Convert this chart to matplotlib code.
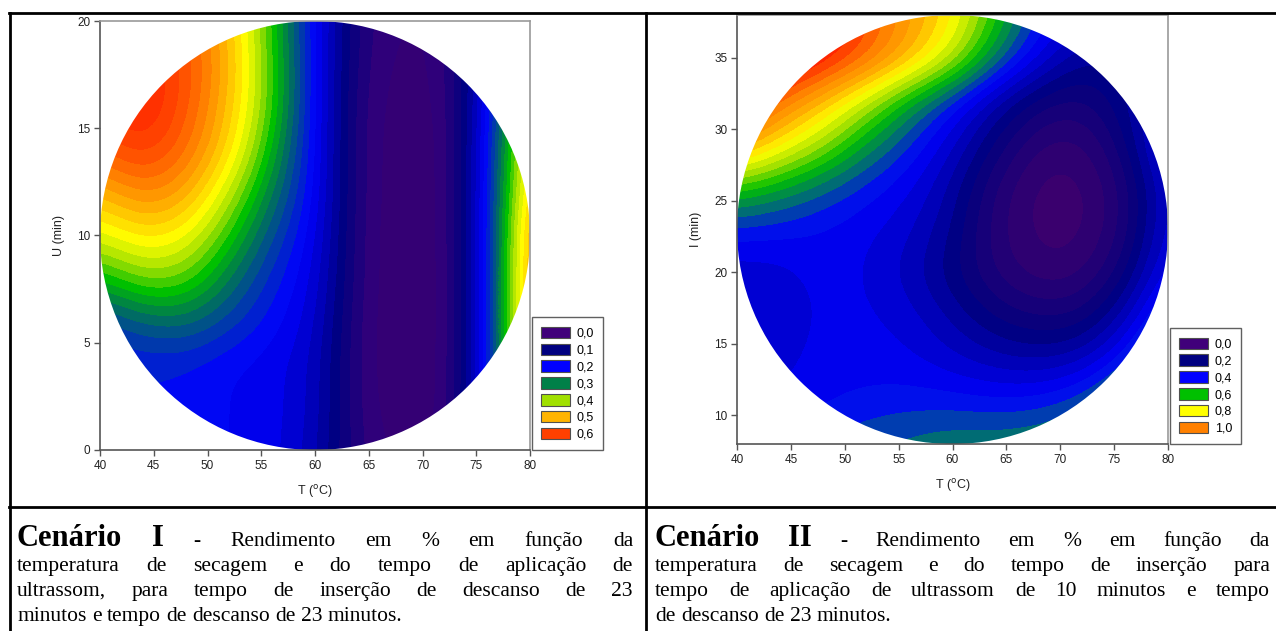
import numpy as np
import matplotlib
matplotlib.use("Agg")
import matplotlib.pyplot as plt
from matplotlib.colors import LinearSegmentedColormap
from matplotlib.patches import Ellipse, Patch
from matplotlib.lines import Line2D

# ---- dados ----
# Cenário I : rendimento em função de T (°C) e U (min)
t_grade = [40, 44, 48, 52, 56, 60, 64, 68, 72, 76, 80]
u_grade = [0, 2, 4, 6, 8, 10, 12, 14, 16, 18, 20]
rend_1 = [
    [0.22, 0.22, 0.21, 0.20, 0.19, 0.15, 0.06, 0.03, 0.04, 0.19, 0.50],
    [0.22, 0.22, 0.21, 0.20, 0.19, 0.16, 0.055, 0.02, 0.03, 0.19, 0.52],
    [0.22, 0.22, 0.22, 0.20, 0.19, 0.16, 0.055, 0.015, 0.03, 0.19, 0.55],
    [0.24, 0.28, 0.29, 0.25, 0.21, 0.17, 0.055, 0.015, 0.03, 0.19, 0.55],
    [0.34, 0.39, 0.38, 0.30, 0.23, 0.18, 0.06, 0.015, 0.03, 0.19, 0.55],
    [0.43, 0.47, 0.45, 0.36, 0.26, 0.19, 0.06, 0.015, 0.03, 0.19, 0.55],
    [0.50, 0.55, 0.52, 0.42, 0.30, 0.20, 0.06, 0.02, 0.03, 0.19, 0.52],
    [0.58, 0.62, 0.57, 0.48, 0.34, 0.20, 0.06, 0.02, 0.03, 0.19, 0.50],
    [0.62, 0.66, 0.59, 0.50, 0.37, 0.20, 0.06, 0.025, 0.035, 0.18, 0.48],
    [0.60, 0.65, 0.60, 0.51, 0.37, 0.20, 0.065, 0.03, 0.04, 0.17, 0.45],
    [0.56, 0.61, 0.58, 0.50, 0.36, 0.20, 0.07, 0.035, 0.045, 0.16, 0.42],
]

# Cenário II : rendimento em função de T (°C) e I (min)
i_grade = [8, 11, 14, 17, 20, 23, 26, 29, 32, 35, 38]
rend_2 = [
    [0.40, 0.42, 0.45, 0.48, 0.50, 0.52, 0.52, 0.53, 0.56, 0.62, 0.75],
    [0.36, 0.37, 0.39, 0.41, 0.42, 0.42, 0.41, 0.42, 0.47, 0.58, 0.70],
    [0.33, 0.34, 0.38, 0.38, 0.37, 0.33, 0.29, 0.27, 0.30, 0.42, 0.60],
    [0.32, 0.33, 0.37, 0.37, 0.34, 0.27, 0.19, 0.15, 0.16, 0.29, 0.50],
    [0.33, 0.34, 0.38, 0.36, 0.30, 0.21, 0.11, 0.05, 0.06, 0.18, 0.40],
    [0.42, 0.41, 0.39, 0.37, 0.33, 0.24, 0.09, 0.02, 0.02, 0.12, 0.36],
    [0.62, 0.56, 0.49, 0.42, 0.37, 0.27, 0.11, 0.02, 0.02, 0.12, 0.35],
    [0.95, 0.82, 0.70, 0.55, 0.44, 0.33, 0.19, 0.07, 0.06, 0.18, 0.42],
    [1.14, 1.00, 0.88, 0.73, 0.56, 0.42, 0.28, 0.17, 0.14, 0.24, 0.35],
    [1.28, 1.22, 1.13, 1.03, 0.90, 0.74, 0.52, 0.36, 0.24, 0.25, 0.30],
    [1.32, 1.28, 1.18, 1.05, 0.93, 0.82, 0.62, 0.43, 0.35, 0.33, 0.35],
]

leg_1 = ["0,0", "0,1", "0,2", "0,3", "0,4", "0,5", "0,6"]
leg_2 = ["0,0", "0,2", "0,4", "0,6", "0,8", "1,0"]

legenda_1 = ["Rendimento em % em função da",
             "temperatura de secagem e do tempo de aplicação de",
             "ultrassom, para tempo de inserção de descanso de 23",
             "minutos e tempo de descanso de 23 minutos."]
legenda_2 = ["Rendimento em % em função da",
             "temperatura de secagem e do tempo de inserção para",
             "tempo de aplicação de ultrassom de 10 minutos e tempo",
             "de descanso de 23 minutos."]

# ---- estilo ----
cores_leg_1 = ["#40007a", "#000080", "#0000ff", "#008048", "#a0e000", "#ffb400", "#ff4000"]
cores_leg_2 = ["#40007a", "#000080", "#0000ff", "#00c000", "#ffff00", "#ff8000"]
nos_1 = [(0.0, "#3a006e"), (0.04, "#30007a"), (0.1, "#000080"), (0.2, "#0000ff"), (0.3, "#007a50"),
         (0.35, "#00c000"), (0.4, "#a0e000"), (0.45, "#ffff00"), (0.52, "#ffa800"),
         (0.6, "#ff5000"), (0.7, "#ff0000")]
nos_2 = [(0.0, "#3a006e"), (0.2, "#000080"), (0.4, "#0000ff"), (0.5, "#007070"),
         (0.6, "#00c000"), (0.7, "#a0e000"), (0.8, "#ffff00"), (0.9, "#ffb000"),
         (1.0, "#ff8000"), (1.1, "#ff3000"), (1.2, "#ff0000")]

W, H = 1276, 631
fig = plt.figure(figsize=(W / 100, H / 100), dpi=100)
sans = "Liberation Sans"
serif = "Liberation Serif"


def eixo(px0, px1, py0, py1):
    return fig.add_axes([px0 / W, 1 - py1 / H, (px1 - px0) / W, (py1 - py0) / H])


def painel(ax, y, z, nos, vmax, nb, cy, ry, ylim, yticks, ylabel, rotulos, cores, xpad):
    z = np.array(z)
    dx = t_grade[1] - t_grade[0]
    dy = y[1] - y[0]
    cmap = LinearSegmentedColormap.from_list("sp", [(v / vmax, c) for v, c in nos], N=nb)
    im = ax.imshow(z, origin="lower", aspect="auto", cmap=cmap, vmin=0, vmax=vmax,
                   extent=(t_grade[0] - dx / 2, t_grade[-1] + dx / 2, y[0] - dy / 2, y[-1] + dy / 2),
                   interpolation="bicubic", interpolation_stage="data")
    im.set_clip_path(Ellipse((60, cy), 40, 2 * ry, transform=ax.transData))
    ax.set_xlim(40, 80)
    ax.set_ylim(*ylim)
    ax.set_xticks([40, 45, 50, 55, 60, 65, 70, 75, 80])
    ax.set_yticks(yticks)
    for s in ["left", "bottom"]:
        ax.spines[s].set_color("#555555")
        ax.spines[s].set_linewidth(1.2)
    for s in ["top", "right"]:
        ax.spines[s].set_color("#9a9a9a")
        ax.spines[s].set_linewidth(1.2)
    ax.tick_params(direction="out", length=4, width=1, color="#555555",
                   labelsize=8.5, labelcolor="#222222", pad=3)
    for lb in ax.get_xticklabels() + ax.get_yticklabels():
        lb.set_family(sans)
    ax.set_xlabel("T ($^{\\mathrm{o}}$C)", fontsize=9, family=sans, color="#222222", labelpad=8)
    ax.set_ylabel(ylabel, fontsize=9, family=sans, color="#222222", labelpad=xpad)
    hs = [Patch(facecolor=c, edgecolor="#505050", linewidth=0.8) for c in cores]
    leg = ax.legend(hs, rotulos, loc="lower left", bbox_to_anchor=(1.004, 0), borderaxespad=0,
                    fancybox=False, edgecolor="#606060", framealpha=1,
                    prop={"family": sans, "size": 9}, handlelength=2.3, handleheight=1.05,
                    labelspacing=0.3, handletextpad=0.55, borderpad=0.75)
    leg.get_frame().set_linewidth(1.0)


ax1 = eixo(100, 530, 21, 450)
painel(ax1, u_grade, rend_1, nos_1, 0.7, 35, 10, 10, (0, 20), [0, 5, 10, 15, 20],
       "U (min)", leg_1, cores_leg_1, 9)

ax2 = eixo(737, 1168, 15, 444)
painel(ax2, i_grade, rend_2, nos_2, 1.2, 30, 23, 15, (8, 38), [10, 15, 20, 25, 30, 35],
       "I (min)", leg_2, cores_leg_2, 9)

# ---- bordas da tabela ----
def linha(x0, y0, x1, y1):
    fig.add_artist(Line2D([x0 / W, x1 / W], [1 - y0 / H, 1 - y1 / H], color="black",
                          linewidth=2.0, transform=fig.transFigure))

linha(9, 13, W, 13)
linha(10, 13, 10, H)
linha(646, 13, 646, H)
linha(9, 507, W, 507)

# ---- legendas justificadas ----
ren = fig.canvas.get_renderer()
TAM = 15.5
TAM_B = 22


def escreve(pecas, x0, x1, yb, justificar=True):
    objs = []
    for txt, negrito, tam in pecas:
        t = fig.text(0, 1 - yb / H, txt, fontsize=tam, family=serif,
                     fontweight="bold" if negrito else "normal", va="baseline", ha="left")
        objs.append(t)
    larg = [t.get_window_extent(ren).width for t in objs]
    if justificar and len(objs) > 1:
        gap = (x1 - x0 - sum(larg)) / (len(objs) - 1)
    else:
        gap = 0.25 * TAM * 100 / 72
    x = x0
    for t, l in zip(objs, larg):
        t.set_x(x / W)
        x += l + gap


def caption(titulo, linhas, x0, x1):
    for k, ln in enumerate(linhas):
        pecas = [(w, False, TAM) for w in ln.split()]
        if k == 0:
            partes = titulo.split()
            pecas = [(partes[0], True, TAM_B), (partes[1], True, TAM_B), (partes[2], True, TAM)] + pecas
        escreve(pecas, x0, x1, 546 + 25 * k, justificar=(k < len(linhas) - 1))


caption("Cenário I -", legenda_1, 17, 633)
caption("Cenário II -", legenda_2, 655, 1270)

fig.savefig("out.png", dpi=100)
